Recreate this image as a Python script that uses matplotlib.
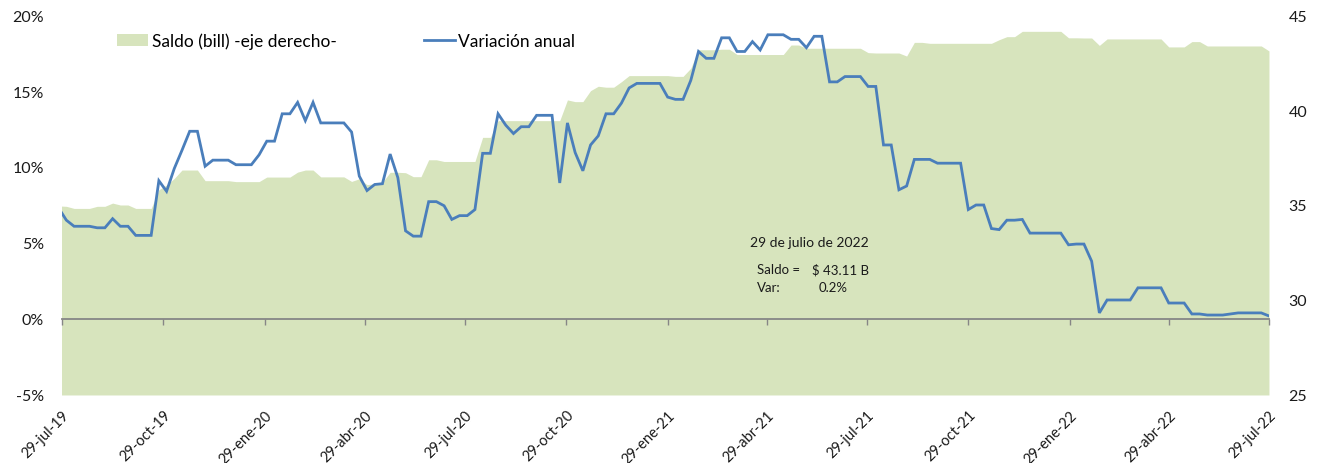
import matplotlib
matplotlib.use("Agg")
import matplotlib.pyplot as plt
import matplotlib.dates as mdates
from matplotlib.patches import Patch
from matplotlib.lines import Line2D
import pandas as pd

plt.rcParams['font.family'] = ['Lato', 'DejaVu Sans']

# ---------------- data ----------------
start_date = "2019-07-26"   # weekly (Friday) observations
end_date = "2022-07-29"

variacion = [
    7.3, 6.5, 6.1, 6.1, 6.1, 6.0, 6.0, 6.6, 6.1, 6.1,
    5.5, 5.5, 5.5, 9.1, 8.4, 9.9, 11.1, 12.35, 12.35, 10.05,
    10.45, 10.45, 10.45, 10.15, 10.15, 10.15, 10.8, 11.7, 11.7, 13.5,
    13.5, 14.25, 13.05, 14.25, 12.9, 12.9, 12.9, 12.9, 12.3, 9.4,
    8.45, 8.85, 8.9, 10.85, 9.3, 5.8, 5.45, 5.45, 7.72, 7.72,
    7.45, 6.55, 6.8, 6.8, 7.2, 10.9, 10.9, 13.5, 12.75, 12.2,
    12.65, 12.65, 13.4, 13.4, 13.4, 8.95, 12.9, 10.95, 9.75, 11.45,
    12.05, 13.5, 13.5, 14.2, 15.2, 15.5, 15.5, 15.5, 15.5, 14.6,
    14.45, 14.45, 15.7, 17.6, 17.15, 17.15, 18.5, 18.5, 17.6, 17.6,
    18.25, 17.7, 18.7, 18.7, 18.7, 18.4, 18.4, 17.85, 18.6, 18.6,
    15.6, 15.6, 15.95, 15.95, 15.95, 15.3, 15.3, 11.45, 11.45, 8.5,
    8.75, 10.5, 10.5, 10.5, 10.25, 10.25, 10.25, 10.25, 7.2, 7.5,
    7.5, 5.95, 5.88, 6.5, 6.5, 6.55, 5.65, 5.65, 5.65, 5.65,
    5.65, 4.88, 4.93, 4.93, 3.8, 0.4, 1.25, 1.25, 1.25, 1.25,
    2.05, 2.05, 2.05, 2.05, 1.05, 1.05, 1.05, 0.33, 0.33, 0.26,
    0.26, 0.26, 0.33, 0.4, 0.4, 0.4, 0.4, 0.2,
]

saldo = [
    34.95, 34.93, 34.82, 34.82, 34.82, 34.93, 34.93, 35.1, 35.0, 35.0,
    34.82, 34.82, 34.82, 35.8, 36.05, 36.4, 36.84, 36.84, 36.84, 36.28,
    36.28, 36.28, 36.28, 36.23, 36.23, 36.23, 36.23, 36.47, 36.47, 36.47,
    36.47, 36.73, 36.84, 36.84, 36.48, 36.48, 36.48, 36.48, 36.24, 36.38,
    36.07, 36.12, 36.19, 36.72, 36.72, 36.7, 36.49, 36.49, 37.38, 37.38,
    37.29, 37.29, 37.29, 37.29, 37.29, 38.56, 38.56, 39.44, 39.44, 39.44,
    39.44, 39.44, 39.44, 39.44, 39.44, 39.44, 40.53, 40.44, 40.44, 41.02,
    41.25, 41.2, 41.2, 41.49, 41.81, 41.81, 41.81, 41.81, 41.81, 41.81,
    41.77, 41.77, 42.2, 43.17, 43.17, 43.17, 43.2, 43.2, 42.92, 42.92,
    42.92, 42.92, 42.92, 42.92, 42.92, 43.42, 43.42, 43.25, 43.25, 43.25,
    43.25, 43.25, 43.25, 43.25, 43.25, 43.02, 43.0, 43.0, 43.0, 43.0,
    42.84, 43.56, 43.56, 43.51, 43.51, 43.51, 43.51, 43.51, 43.51, 43.51,
    43.51, 43.51, 43.7, 43.86, 43.86, 44.14, 44.14, 44.14, 44.14, 44.14,
    44.14, 43.8, 43.8, 43.79, 43.79, 43.4, 43.74, 43.74, 43.74, 43.74,
    43.74, 43.74, 43.74, 43.74, 43.32, 43.32, 43.32, 43.6, 43.6, 43.37,
    43.37, 43.37, 43.37, 43.37, 43.37, 43.37, 43.37, 43.11,
]

tick_dates = ["2019-07-29", "2019-10-29", "2020-01-29", "2020-04-29", "2020-07-29",
              "2020-10-29", "2021-01-29", "2021-04-29", "2021-07-29", "2021-10-29",
              "2022-01-29", "2022-04-29", "2022-07-29"]
tick_labels = ["29-jul-19", "29-oct-19", "29-ene-20", "29-abr-20", "29-jul-20",
               "29-oct-20", "29-ene-21", "29-abr-21", "29-jul-21", "29-oct-21",
               "29-ene-22", "29-abr-22", "29-jul-22"]

left_ticks = [-5, 0, 5, 10, 15, 20]
right_ticks = [25, 30, 35, 40, 45]

label_area = "Saldo (bill) -eje derecho-"
label_line = "Variación anual"
note_title = "29 de julio de 2022"

# ---------------- plot ----------------
dates = pd.date_range(start_date, end_date, freq="7D")
tdates = pd.to_datetime(tick_dates)

green = "#D7E4BD"
blue = "#4A7EBB"
gray = "#868686"

fig = plt.figure(figsize=(13.18, 4.64), dpi=100)
ax = fig.add_axes([0.0470, 0.1466, 0.9158, 0.8189])
ax2 = ax.twinx()

ax2.fill_between(dates, 25, saldo, color=green, lw=0)
ax2.set_ylim(25, 45)
ax2.set_yticks(right_ticks)
ax2.set_yticklabels([str(v) for v in right_ticks])

ax.plot(dates, variacion, color=blue, lw=2.0, solid_joinstyle='miter')
ax.set_ylim(-5, 20)
ax.set_yticks(left_ticks)
ax.set_yticklabels([f"{v}%" for v in left_ticks])

ax.set_zorder(ax2.get_zorder() + 1)
ax.patch.set_visible(False)

ax.set_xlim(tdates[0], tdates[-1])
ax.set_xticks(tdates)
ax.set_xticklabels(tick_labels, rotation=45, ha='right', rotation_mode='anchor')
ax.tick_params(axis='x', length=0, pad=9, labelsize=10.5, colors='#1a1a1a')
ax.tick_params(axis='y', length=0, pad=13, labelsize=11.5, colors='#1a1a1a')
ax2.tick_params(axis='y', length=0, pad=14, labelsize=11.5, colors='#1a1a1a')
for a in (ax, ax2):
    for s in a.spines.values():
        s.set_visible(False)

# zero line with tick marks (category axis crossing at 0%)
sec = ax.secondary_xaxis(0.2)
sec.set_xticks(tdates)
sec.set_xticklabels([])
sec.tick_params(axis='x', direction='out', length=4, width=1, color=gray)
for name, s in sec.spines.items():
    s.set_color(gray)
    s.set_linewidth(1.3)

# legend
handles = [Patch(facecolor=green, edgecolor='none', label=label_area),
           Line2D([0], [0], color=blue, lw=2.0, label=label_line)]
ax.legend(handles=handles, ncol=2, loc='upper left', bbox_to_anchor=(0.046, 0.955),
          frameon=False, fontsize=12.5, handlelength=1.75, handletextpad=0.22,
          columnspacing=5.05, borderpad=0, borderaxespad=0)

# annotation
ax.text(0.570, 0.403, note_title, transform=ax.transAxes, fontsize=10,
        va='center', ha='left', color='#1a1a1a')
ax.text(0.576, 0.332, "Saldo =", transform=ax.transAxes, fontsize=9.5,
        va='center', ha='left', color='#1a1a1a')
ax.text(0.621, 0.332, f"$ {saldo[-1]:.2f} B", transform=ax.transAxes, fontsize=9.5,
        va='center', ha='left', color='#1a1a1a')
ax.text(0.576, 0.284, "Var:", transform=ax.transAxes, fontsize=9.5,
        va='center', ha='left', color='#1a1a1a')
ax.text(0.627, 0.284, f"{variacion[-1]:.1f}%", transform=ax.transAxes, fontsize=9.5,
        va='center', ha='left', color='#1a1a1a')

fig.savefig("out.png", dpi=100)
